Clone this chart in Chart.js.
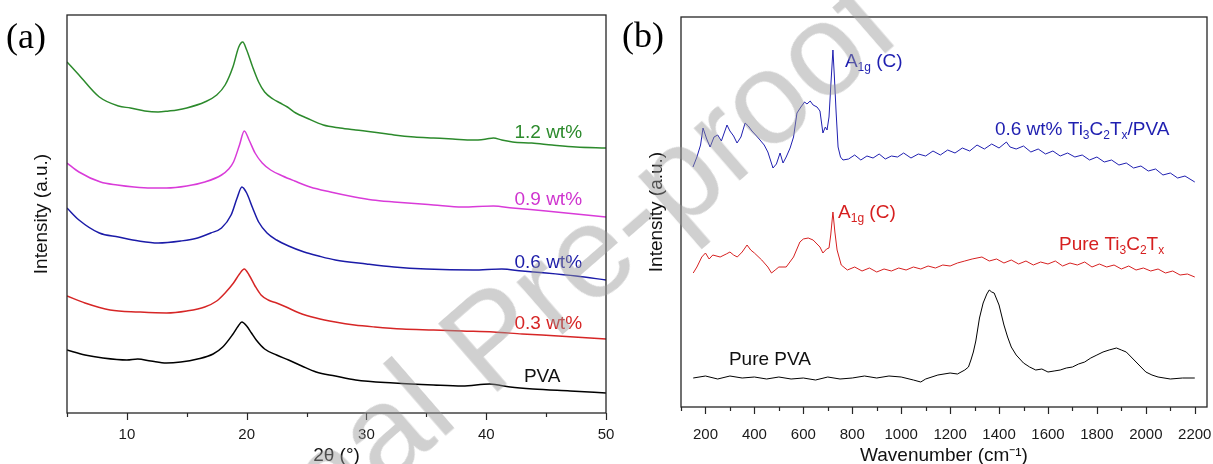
<!DOCTYPE html>
<html>
<head>
<meta charset="utf-8">
<script src="https://cdn.jsdelivr.net/npm/chart.js@4.4.1/dist/chart.umd.min.js"></script>
<style>
html,body{margin:0;padding:0;background:#fff;}
body{width:1213px;height:464px;overflow:hidden;position:relative;}
#ca{position:absolute;left:0;top:0;}
#cb{position:absolute;left:615px;top:0;}
#wm{position:absolute;left:490px;top:338px;transform:translate(-50%,-50%) rotate(-41deg);
    font:132px Arial,"Liberation Sans",sans-serif;line-height:1;color:rgba(150,150,150,0.45);
    white-space:nowrap;z-index:5;pointer-events:none;}
</style>
</head>
<body>
<canvas id="ca" width="615" height="464"></canvas>
<canvas id="cb" width="598" height="464"></canvas>
<div id="wm">Journal Pre-proof</div>
<script>
// ---------------- Panel (a): XRD, [2θ (°), intensity (a.u.)] ----------------
const xrd_12wt = [[5,351],[6,338],[7.7,316],[9.3,307],[10.3,305],[11.5,302],[12.6,301],[13.5,302],[14.2,303],[15,305],[16.5,311],[17.5,318],[18.2,328],[18.85,346],[19.34,366],[19.67,371],[20,363],[20.5,346],[21,331],[21.5,321],[22.2,314],[22.8,310],[23.4,306],[24.1,300],[25,295],[26.4,288],[27.8,285],[29.1,283],[30.5,281],[32.3,278],[34,276],[35.6,275],[37.2,274],[38.9,273],[40,274],[40.6,275],[41.3,273],[42.2,271],[43.8,270],[45.5,268],[47.5,266],[50,265]];
const xrd_09wt = [[5,250],[6,241],[7.8,231],[9.2,228],[10.6,226],[12,225],[13.3,225],[15,227],[16.5,231],[17.9,238],[18.5,244],[18.9,251],[19.4,268],[19.8,282],[20.2,273],[20.7,260],[21.3,250],[22,243],[23,237],[24,232],[25.3,226],[27,221],[29,216],[30.5,213],[32.3,211],[35.6,208],[38,206],[40.6,207],[42.2,205],[45,202],[47.5,199],[50,196]];
const xrd_06wt = [[5,205],[6,193],[7.7,180],[9.3,176],[11,172],[12.6,170],[14.5,172],[15.9,175],[17,180],[17.9,185],[18.7,198],[19.2,215],[19.6,226],[20,220],[20.5,205],[21,191],[21.7,180],[22.5,173],[23.5,167],[24.8,161],[26,157],[27.4,153],[30,149],[32.3,146],[35,144],[38.9,143],[41.3,144],[43,142],[45,140],[47.5,137],[50,133]];
const xrd_03wt = [[5,117],[6.5,110],[8.6,103],[11,101],[13.3,100],[15,102],[16.5,106],[17.5,112],[18.2,120],[18.9,130],[19.4,139],[19.8,144],[20.2,138],[20.7,127],[21.2,118],[21.8,113],[22.5,110],[23.3,106],[24.4,100],[25.8,95],[27.4,91],[29,88],[30.7,86],[33,84],[35.6,83],[38,82],[40.6,81],[43,79],[46,77],[50,74]];
const xrd_pva  = [[5,63],[6.5,58],[8,55],[10,53],[10.9,54],[12,52],[13.3,50],[14.5,51],[15.9,54],[17.2,59],[18,66],[18.8,78],[19.3,87],[19.6,91],[20,87],[20.4,80],[20.8,73],[21.5,64],[22.5,58],[23.5,53],[24.6,47],[25.8,41],[27.4,37],[29.1,33],[32.3,30],[35.6,28],[38,27],[40.3,29],[42,26],[43.9,24],[47,22],[50,20]];
const xrdNames  = ['1.2 wt%','0.9 wt%','0.6 wt%','0.3 wt%','PVA'];
const xrdTicks  = [10,20,30,40,50];

// ---------------- Panel (b): Raman, [wavenumber (cm-1), intensity (a.u.)] ----------------
const raman_composite = [[149,240],[165,250],[180,262],[190,279],[205,268],[219,260],[235,270],[250,272],[265,266],[288,282],[300,276],[315,271],[329,264],[345,270],[362,284],[375,281],[390,276],[405,272],[423,267],[440,262],[455,255],[476,239],[490,243],[505,254],[517,244],[530,250],[546,259],[560,270],[574,294],[590,300],[605,305],[615,303],[628,306],[640,302],[656,300],[668,296],[680,274],[690,280],[697,277],[705,290],[712,320],[721,357],[727,330],[734,295],[742,260],[752,250],[762,247],[785,248],[810,252],[835,247],[860,251],[885,249],[910,253],[935,248],[960,251],[985,250],[1010,254],[1040,249],[1070,253],[1100,251],[1130,256],[1160,252],[1190,257],[1220,254],[1250,259],[1280,256],[1310,262],[1340,258],[1370,263],[1400,259],[1430,265],[1445,260],[1470,258],[1500,261],[1530,255],[1560,258],[1590,253],[1620,256],[1650,251],[1680,254],[1710,250],[1740,252],[1770,247],[1800,250],[1830,245],[1860,247],[1890,242],[1920,244],[1950,239],[1980,241],[2010,236],[2040,238],[2070,232],[2100,234],[2130,229],[2160,231],[2200,225]];
const raman_ti3c2tx = [[150,134],[165,140],[185,150],[200,154],[215,148],[230,152],[260,150],[285,153],[300,155],[315,152],[330,150],[350,155],[370,162],[385,157],[400,154],[430,147],[455,140],[470,134],[485,137],[500,140],[530,140],[545,145],[560,150],[586,165],[600,168],[620,169],[640,167],[668,160],[680,154],[695,158],[705,159],[712,172],[721,195],[729,175],[738,157],[755,142],[780,137],[810,140],[840,136],[870,139],[900,135],[930,138],[960,136],[990,139],[1020,137],[1050,140],[1080,138],[1110,141],[1140,139],[1170,142],[1200,141],[1230,144],[1260,146],[1290,148],[1330,150],[1360,146],[1390,148],[1420,144],[1450,147],[1480,143],[1510,146],[1540,142],[1570,145],[1600,143],[1630,146],[1660,141],[1690,144],[1720,142],[1750,145],[1780,140],[1810,143],[1840,140],[1870,142],[1900,138],[1930,141],[1960,137],[1990,139],[2020,136],[2050,138],[2080,134],[2110,136],[2140,132],[2170,133],[2200,130]];
const raman_pva = [[150,29],[200,31],[250,28],[300,31],[350,29],[400,30],[450,28],[500,30],[550,28],[600,29],[650,27],[700,30],[750,28],[800,29],[850,31],[900,29],[950,31],[1000,30],[1050,27],[1080,25],[1100,28],[1150,32],[1200,34],[1230,33],[1260,37],[1275,40],[1285,47],[1295,55],[1305,66],[1320,89],[1335,104],[1350,113],[1360,117],[1370,115],[1380,114],[1390,108],[1400,102],[1410,92],[1420,82],[1435,70],[1450,60],[1470,52],[1500,44],[1525,40],[1550,37],[1575,38],[1600,35],[1625,36],[1650,37],[1675,39],[1700,40],[1725,43],[1750,45],[1775,49],[1800,52],[1825,55],[1850,57],[1880,59],[1900,57],[1920,55],[1940,50],[1960,45],[1980,40],[2000,35],[2025,32],[2050,30],[2100,28],[2150,29],[2200,29]];
const ramanTicks = [200,400,600,800,1000,1200,1400,1600,1800,2000,2200];

// ---------------- shared drawing helpers ----------------
const SANS = 'Arial, "Liberation Sans", Helvetica, sans-serif';
const SERIF = '"Liberation Serif", "Times New Roman", Times, serif';

function drawRich(ctx, parts, x, y, align, color, size){
  const sub = Math.round(size*0.65);
  let w = 0;
  parts.forEach(p => { ctx.font = (p[1] ? sub : size) + 'px ' + SANS; w += ctx.measureText(p[0]).width; });
  let cx = align === 'right' ? x - w : x;
  ctx.fillStyle = color; ctx.textBaseline = 'middle'; ctx.textAlign = 'left';
  parts.forEach(p => {
    ctx.font = (p[1] ? sub : size) + 'px ' + SANS;
    ctx.fillText(p[0], cx, p[1] ? y + size*0.3 : y);
    cx += ctx.measureText(p[0]).width;
  });
}

const framePlugin = {
  id: 'frame',
  afterDraw(chart, args, o){
    const {ctx, chartArea:{left,top,right,bottom}} = chart;
    const xs = chart.scales.x, ys = chart.scales.y;
    ctx.save();
    ctx.strokeStyle = '#262626'; ctx.lineWidth = 1.3;
    ctx.strokeRect(left, top, right-left, bottom-top);
    ctx.beginPath();
    xs.ticks.forEach(t => {
      if (Math.abs(t.value % o.minor) > 1e-6) return;
      const px = Math.round(xs.getPixelForValue(t.value)) + 0.5;
      const len = (Math.abs(t.value % o.major) < 1e-6) ? 7 : 4;
      ctx.moveTo(px, bottom); ctx.lineTo(px, bottom + len);
    });
    ctx.lineWidth = 1.2; ctx.stroke();
    o.labels.forEach(l => drawRich(ctx, l.parts, xs.getPixelForValue(l.x), ys.getPixelForValue(l.y), l.align, l.color, 19));
    ctx.font = '36px ' + SERIF; ctx.fillStyle = '#000'; ctx.textAlign = 'left'; ctx.textBaseline = 'middle';
    ctx.fillText(o.tag, o.tagX, o.tagY);
    ctx.restore();
  }
};

function lineSets(series, colors, width, smooth){
  return series.map((s, i) => ({
    data: s.map(p => ({x: p[0], y: p[1]})),
    borderColor: colors[i], borderWidth: width, pointRadius: 0, fill: false,
    cubicInterpolationMode: smooth ? 'monotone' : 'default', tension: 0
  }));
}

function makeOptions(cfg){
  return {
    responsive: false, animation: false, devicePixelRatio: 1,
    layout: {padding: {top: cfg.padTop, right: cfg.padRight, left: 0, bottom: 0}},
    plugins: {legend: {display: false}, tooltip: {enabled: false}, frame: cfg.frame},
    scales: {
      x: {
        type: 'linear', min: cfg.xmin, max: cfg.xmax,
        afterFit: s => { s.height = cfg.xHeight; s.paddingLeft = 0; s.paddingRight = 0; },
        border: {display: false}, grid: {display: false, drawTicks: false},
        ticks: {stepSize: cfg.step, autoSkip: false, maxRotation: 0, includeBounds: false, padding: cfg.tickPad,
          color: '#1a1a1a', font: {family: SANS, size: 15},
          callback: v => cfg.ticks.includes(v) ? String(v) : ''},
        title: {display: true, text: cfg.xTitle, color: '#111', padding: {top: 0, bottom: 0},
          font: {family: SANS, size: 19, lineHeight: 0.84}}
      },
      y: {
        type: 'linear', min: 0, max: cfg.ymax,
        afterFit: s => { s.width = cfg.yWidth; s.paddingTop = 0; s.paddingBottom = 0; },
        border: {display: false}, grid: {display: false, drawTicks: false},
        ticks: {display: false},
        title: {display: true, text: 'Intensity (a.u.)', color: '#111', padding: {top: 30, bottom: 0},
          font: {family: SANS, size: 19, lineHeight: 1.2}}
      }
    }
  };
}

// ---------------- Chart (a) ----------------
new Chart(document.getElementById('ca'), {
  type: 'line',
  data: {datasets: lineSets([xrd_12wt, xrd_09wt, xrd_06wt, xrd_03wt, xrd_pva],
    ['#2c8a2c', '#d93bd9', '#1b1ba8', '#d62626', '#000000'], 1.5, true)},
  options: makeOptions({
    padTop: 15, padRight: 9, xHeight: 51, yWidth: 67, xmin: 5, xmax: 50, step: 5, ymax: 398,
    ticks: xrdTicks, tickPad: 13, xTitle: '2θ (°)',
    frame: {
      minor: 5, major: 10, tag: '(a)', tagX: 6, tagY: 39,
      labels: [
        {parts: [[xrdNames[0], 0]], x: 48.0, y: 280, align: 'right', color: '#2c8a2c'},
        {parts: [[xrdNames[1], 0]], x: 48.0, y: 213, align: 'right', color: '#cf35cf'},
        {parts: [[xrdNames[2], 0]], x: 48.0, y: 150, align: 'right', color: '#1b1ba8'},
        {parts: [[xrdNames[3], 0]], x: 48.0, y: 89, align: 'right', color: '#d62626'},
        {parts: [[xrdNames[4], 0]], x: 46.2, y: 36, align: 'right', color: '#111111'}
      ]
    }
  }),
  plugins: [framePlugin]
});

// ---------------- Chart (b) ----------------
new Chart(document.getElementById('cb'), {
  type: 'line',
  data: {datasets: lineSets([raman_composite, raman_ti3c2tx, raman_pva],
    ['#1f1fb0', '#d62020', '#000000'], 1, false)},
  options: makeOptions({
    padTop: 17, padRight: 6, xHeight: 57, yWidth: 66, xmin: 100, xmax: 2250, step: 100, ymax: 390,
    ticks: ramanTicks, tickPad: 19, xTitle: 'Wavenumber (cm⁻¹)',
    frame: {
      minor: 100, major: 200, tag: '(b)', tagX: 7, tagY: 38,
      labels: [
        {parts: [['A', 0], ['1g', 1], [' (C)', 0]], x: 770, y: 345, align: 'left', color: '#1f1fb0'},
        {parts: [['0.6 wt% Ti', 0], ['3', 1], ['C', 0], ['2', 1], ['T', 0], ['x', 1], ['/PVA', 0]], x: 1383, y: 277, align: 'left', color: '#1f1fb0'},
        {parts: [['A', 0], ['1g', 1], [' (C)', 0]], x: 742, y: 194, align: 'left', color: '#d62020'},
        {parts: [['Pure Ti', 0], ['3', 1], ['C', 0], ['2', 1], ['T', 0], ['x', 1]], x: 1645, y: 162, align: 'left', color: '#d62020'},
        {parts: [['Pure PVA', 0]], x: 296, y: 47, align: 'left', color: '#111111'}
      ]
    }
  }),
  plugins: [framePlugin]
});
</script>
</body>
</html>
